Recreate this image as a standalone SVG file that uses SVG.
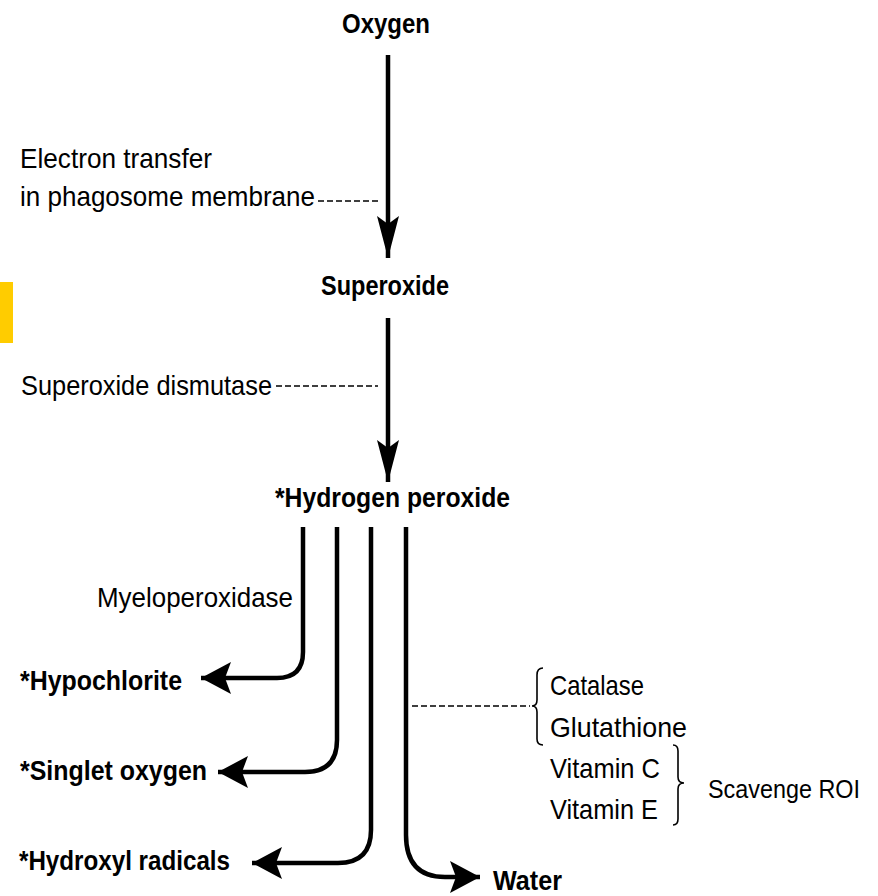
<svg xmlns="http://www.w3.org/2000/svg" width="878" height="896" viewBox="0 0 878 896">
<style>
text{font-family:"Liberation Sans",Arial,sans-serif;font-size:28px;fill:#000}
.b{font-weight:bold}
.ln{fill:none;stroke:#000;stroke-width:4.5}
.ds{fill:none;stroke:#000;stroke-width:1.6;stroke-dasharray:6 3}
.br{fill:none;stroke:#000;stroke-width:1.6}
</style>
<defs>
<marker id="av" markerUnits="userSpaceOnUse" markerWidth="44" markerHeight="26" viewBox="0 -13 44 26" refX="42" refY="0" orient="auto">
<path d="M0,-11 L42,0 L0,11 L8,0 Z" fill="#000"/>
</marker>
<marker id="ah" markerUnits="userSpaceOnUse" markerWidth="32" markerHeight="36" viewBox="0 -18 32 36" refX="30" refY="0" orient="auto">
<path d="M0,-16 L30,0 L0,16 L6,0 Z" fill="#000"/>
</marker>
</defs>
<rect x="0" y="282" width="13" height="61" fill="#ffcc00"/>
<g id="connectors">
<path class="ln" d="M388,55 V258" marker-end="url(#av)"/>
<path class="ln" d="M388,318 V482" marker-end="url(#av)"/>
<path class="ln" d="M303,527 V652 Q303,678 277,678 H201" marker-end="url(#ah)"/>
<path class="ln" d="M337,527 V740 Q337,772 305,772 H218" marker-end="url(#ah)"/>
<path class="ln" d="M371,527 V830 Q371,863 338,863 H252" marker-end="url(#ah)"/>
<path class="ln" d="M406,527 V835 Q406,877 445,877 H480" marker-end="url(#ah)"/>
<path class="ds" d="M318,201 H380"/>
<path class="ds" d="M276,386 H378"/>
<path class="ds" d="M412,706 H530"/>
<path class="br" d="M543,668 Q537,668 537,675 V700 Q537,706 532,706 Q537,706 537,712 V739 Q537,745 543,745"/>
<path class="br" d="M673,745 Q678,745 678,751 V777 Q678,783 684,783 Q678,783 678,789 V819 Q678,825 673,825"/>
</g>
<g id="oxygen"><text class="b" x="342" y="33" textLength="88" lengthAdjust="spacingAndGlyphs">Oxygen</text></g>
<g id="electron-transfer"><text x="20" y="168" textLength="192" lengthAdjust="spacingAndGlyphs">Electron transfer</text><text x="20" y="206" textLength="295" lengthAdjust="spacingAndGlyphs">in phagosome membrane</text></g>
<g id="superoxide"><text class="b" x="321" y="295" textLength="128" lengthAdjust="spacingAndGlyphs">Superoxide</text></g>
<g id="sod"><text x="21" y="395" textLength="251" lengthAdjust="spacingAndGlyphs">Superoxide dismutase</text></g>
<g id="h2o2"><text class="b" x="275" y="507" textLength="235" lengthAdjust="spacingAndGlyphs">*Hydrogen peroxide</text></g>
<g id="mpo"><text x="97" y="607" textLength="196" lengthAdjust="spacingAndGlyphs">Myeloperoxidase</text></g>
<g id="hypochlorite"><text class="b" x="20" y="690" textLength="162" lengthAdjust="spacingAndGlyphs">*Hypochlorite</text></g>
<g id="singlet"><text class="b" x="20" y="780" textLength="187" lengthAdjust="spacingAndGlyphs">*Singlet oxygen</text></g>
<g id="hydroxyl"><text class="b" x="19" y="870" textLength="211" lengthAdjust="spacingAndGlyphs">*Hydroxyl radicals</text></g>
<g id="water"><text class="b" x="493" y="890" textLength="69" lengthAdjust="spacingAndGlyphs">Water</text></g>
<g id="scavengers">
<text x="550" y="695" textLength="94" lengthAdjust="spacingAndGlyphs">Catalase</text>
<text x="550" y="737" textLength="137" lengthAdjust="spacingAndGlyphs">Glutathione</text>
<text x="550" y="778" textLength="110" lengthAdjust="spacingAndGlyphs">Vitamin C</text>
<text x="550" y="819" textLength="108" lengthAdjust="spacingAndGlyphs">Vitamin E</text>
</g>
<g id="scavenge-roi"><text x="708" y="798" style="font-size:25px" textLength="152" lengthAdjust="spacingAndGlyphs">Scavenge ROI</text></g>
</svg>
